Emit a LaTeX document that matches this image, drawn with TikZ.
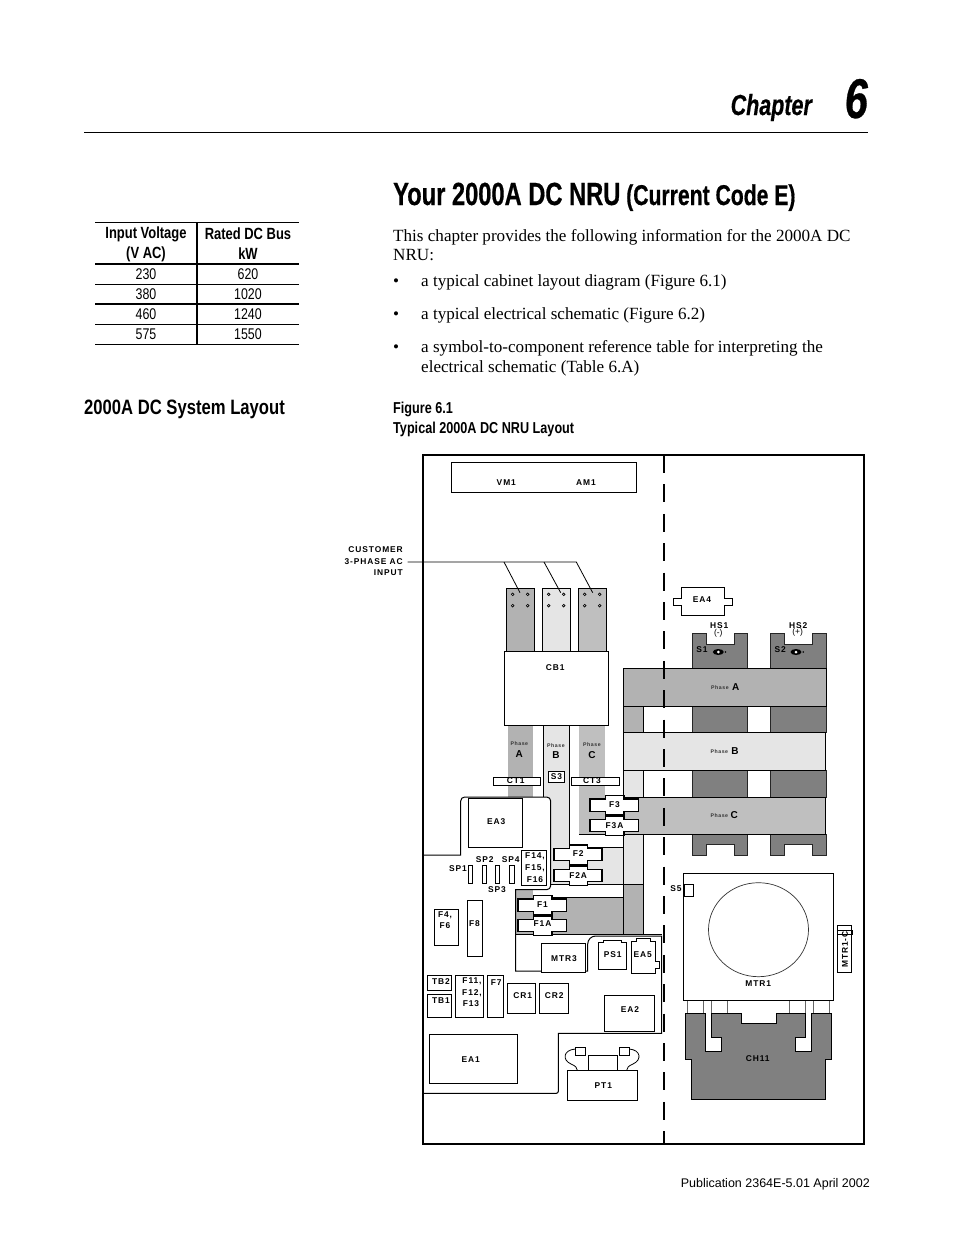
\documentclass[tikz,border=0pt]{standalone}
\usepackage{fontspec}
\setmainfont{Liberation Serif}
\newfontfamily\armf{Liberation Sans}
\newfontfamily\narrowf[FakeStretch=0.8]{Liberation Sans}
\newfontfamily\titlef[FakeStretch=0.74, FakeBold=0.5]{Liberation Sans}
\newfontfamily\lblf[LetterSpace=11]{Liberation Sans}
\definecolor{phasea}{gray}{0.70}
\definecolor{phaseb}{gray}{0.90}
\definecolor{phasec}{gray}{0.75}
\definecolor{sinkgray}{gray}{0.50}
% one fuse: body 48 wide with a tab above and below
\newcommand{\fusepart}[5]{%
    \draw[fuse] (#1, #2) -- ++(15.7, 0) -- ++(0, -3.3) -- ++(18.3, 0) -- ++(0, 3.3) -- ++(14.3, 0) -- ++(0, 12.5) -- ++(-14.3, 0) -- ++(0, 3.3) -- ++(-18.3, 0) -- ++(0, -3.3) -- ++(-15.7, 0) -- cycle;
    \draw[line width=1.8pt] (#1, #2) -- ++(0, 12.5);
    \node[lbl] (#3) at (#1+24.5, #2+#5) {#4};
}
% one heat sink column, notched at top and bottom
\newcommand{\sinkpart}[4]{%
    \fill[sinkgray] (#1, 668) rectangle (#2, 706.7);
    \draw[sink] (#1, 668.3) -- (#1, 633.3) -- (#3, 633.3) -- (#3, 644) -- (#4, 644) -- (#4, 633.3) -- (#2, 633.3) -- (#2, 668.3) -- cycle;
    \draw[sink] (#1, 706.7) rectangle (#2, 732.7);
    \draw[sink] (#1, 770.3) rectangle (#2, 797.3);
    \draw[sink] (#1, 834.3) -- (#1, 855.7) -- (#3, 855.7) -- (#3, 844.3) -- (#4, 844.3) -- (#4, 855.7) -- (#2, 855.7) -- (#2, 834.3) -- cycle;
}
\begin{document}
\begin{tikzpicture}[x=1pt, y=-1pt]
    \tikzstyle{lbl} = [font=\lblf\bfseries\fontsize{8.4}{10}\selectfont, inner sep=0pt]
    \tikzstyle{tiny} = [font=\lblf\bfseries\fontsize{5.2}{6}\selectfont, inner sep=0pt, text=black!80]
    \tikzstyle{big} = [font=\armf\bfseries\fontsize{10}{11}\selectfont, inner sep=0pt]
    \tikzstyle{box} = [draw=black, line width=0.8pt, fill=white]
    \tikzstyle{fuse} = [draw=black, line width=1.1pt, fill=white]
    \tikzstyle{sink} = [draw=black!85, line width=0.8pt, fill=sinkgray]
    \tikzstyle{wall} = [draw=black, line width=1pt]
    \tikzstyle{body} = [font=\fontsize{17.1}{20}\selectfont, inner sep=0pt, anchor=base west]
    \tikzstyle{cell} = [font=\narrowf\fontsize{15.5}{18}\selectfont, inner sep=0pt]
    \tikzstyle{head} = [font=\narrowf\bfseries\fontsize{16.2}{18}\selectfont, inner sep=0pt]
    \tikzstyle{fig} = [font=\narrowf\bfseries\fontsize{15.8}{18}\selectfont, inner sep=0pt, anchor=base west]
    \useasboundingbox (0, 0) rectangle (954, 1235);
    \fill[white] (0, 0) rectangle (954, 1235);

    % page header
    \node[font=\titlef\bfseries\itshape\fontsize{29}{30}\selectfont, inner sep=0pt, anchor=base east] (chapter) at (812, 115) {Chapter};
    \node[font=\titlef\bfseries\itshape\fontsize{56}{60}\selectfont, inner sep=0pt, anchor=base east] (number) at (868, 118) {6};
    \draw[line width=0.9pt] (84, 132.5) -- (868, 132.5);
    \node[font=\titlef\bfseries\fontsize{32}{36}\selectfont, inner sep=0pt, anchor=base west] (title) at (393, 205) {Your 2000A DC NRU};
    \node[font=\titlef\bfseries\fontsize{28.6}{30}\selectfont, inner sep=0pt, anchor=base west] (subtitle) at (626, 205) {(Current Code E)};

    % table
    \draw[line width=1.5pt] (95, 222.5) -- (299, 222.5);
    \draw[line width=2pt] (95, 264) -- (299, 264);
    \draw[line width=0.9pt] (95, 284) -- (299, 284);
    \draw[line width=1.4pt] (95, 304) -- (299, 304);
    \draw[line width=0.9pt] (95, 324) -- (299, 324);
    \draw[line width=0.9pt] (95, 344) -- (299, 344);
    \draw[line width=1.1pt] (197, 222) -- (197, 344);
    \node[head] (voltA) at (146, 234) {Input Voltage};
    \node[head] (voltB) at (146, 254) {(V AC)};
    \node[head] (busA) at (248, 234) {Rated DC Bus};
    \node[head] (busB) at (248, 254) {kW};
    \node[cell] (v1) at (146, 274) {230};
    \node[cell] (k1) at (248, 274) {620};
    \node[cell] (v2) at (146, 294) {380};
    \node[cell] (k2) at (248, 294) {1020};
    \node[cell] (v3) at (146, 314) {460};
    \node[cell] (k3) at (248, 314) {1240};
    \node[cell] (v4) at (146, 334) {575};
    \node[cell] (k4) at (248, 334) {1550};
    \node[font=\narrowf\bfseries\fontsize{20.8}{24}\selectfont, inner sep=0pt, anchor=base west] (layout) at (84, 414) {2000A DC System Layout};

    % body text
    \node[body] (introA) at (393, 241) {This chapter provides the following information for the 2000A DC};
    \node[body] (introB) at (393, 260.5) {NRU:};
    \node[body] (dotA) at (393, 286) {•};
    \node[body] (itemA) at (421, 286) {a typical cabinet layout diagram (Figure 6.1)};
    \node[body] (dotB) at (393, 319) {•};
    \node[body] (itemB) at (421, 319) {a typical electrical schematic (Figure 6.2)};
    \node[body] (dotC) at (393, 352) {•};
    \node[body] (itemC) at (421, 352) {a symbol-to-component reference table for interpreting the};
    \node[body] (itemD) at (421, 372) {electrical schematic (Table 6.A)};
    \node[fig] (figA) at (393, 413) {Figure 6.1};
    \node[fig] (figB) at (393, 433) {Typical 2000A DC NRU Layout};
    \node[font=\armf\fontsize{12.5}{15}\selectfont, inner sep=0pt, anchor=base east] (pub) at (870, 1187) {Publication 2364E-5.01 April 2002};

    % bus bars above and below CB1
    \fill[phasea] (507.7, 725) rectangle (533.3, 800);
    \fill[phaseb] (543.3, 725) rectangle (569.3, 884);
    \draw[line width=0.7pt] (543.3, 725) -- (543.3, 800);
    \draw[line width=0.7pt] (569.3, 725) -- (569.3, 847.7);
    \fill[phaseb] (569.3, 847.7) rectangle (623.3, 884);
    \draw[line width=0.7pt] (569.3, 847.7) -- (623.3, 847.7);
    \fill[phasec] (579.3, 725) rectangle (605.3, 834.3);
    \fill[phasec] (605, 797.3) rectangle (623.3, 834.3);
    \draw[line width=0.7pt] (579.3, 834.3) -- (623.3, 834.3);
    \draw[box, fill=phasea] (506.5, 588) rectangle (534, 651);
    \draw[box, fill=phaseb] (542.3, 588) rectangle (570.3, 651);
    \draw[box, fill=phasec] (578.3, 588) rectangle (606.3, 651);
    \foreach \xhole in {512.7, 527.7, 548.7, 563.7, 584.7, 599.7} {
        \draw[line width=0.7pt, fill=white] (\xhole, 594.3) circle (1.3);
        \draw[line width=0.7pt, fill=white] (\xhole, 605.7) circle (1.3);
    }
    \draw[box] (504.3, 651) rectangle (608.3, 725.3);
    \node[lbl] (cb1) at (555.3, 667.7) {CB1};

    % heat sinks and horizontal phases
    \sinkpart{692.3}{747.7}{706.7}{734.3}
    \sinkpart{770.3}{826.3}{784.3}{812.7}
    \fill[phasea] (623.3, 706.7) rectangle (643.3, 732.7);
    \fill[phaseb] (623.3, 770.3) rectangle (643.3, 797.3);
    \fill[phaseb] (623.3, 834.3) rectangle (643.3, 884);
    \fill[phasea] (623.3, 884) rectangle (643.3, 934);
    \draw[line width=0.7pt] (643.3, 770.3) -- (643.3, 797.3);
    \draw[line width=0.7pt] (643.3, 706.7) -- (643.3, 732.7);
    \draw[line width=0.7pt] (643.3, 834.3) -- (643.3, 934);
    \draw[line width=0.7pt] (623.3, 770.3) -- (623.3, 797.3);
    \draw[line width=0.7pt] (623.3, 834.3) -- (623.3, 934);
    \draw[line width=0.7pt] (623.3, 706.7) -- (623.3, 732.7);
    \draw[box, fill=phasea] (623.3, 668.5) rectangle (826.3, 706.7);
    \draw[box, fill=phaseb] (623.3, 732.7) rectangle (825.7, 770.3);
    \draw[box, fill=phasec] (623.3, 797.3) rectangle (825.7, 834.3);

    % phase A return under the fuses
    \fill[phasea] (515.7, 885) rectangle (533.3, 897.3);
    \fill[phasea] (515.7, 897.3) rectangle (623.3, 934);
    \draw[line width=0.7pt] (550.7, 884) -- (643.3, 884);
    \draw[line width=0.7pt] (533.3, 897.3) -- (623.3, 897.3);
    \draw[line width=0.8pt] (515.7, 934) -- (662, 934);

    % cabinet wall around the low voltage side
    \fill[white, rounded corners=4pt] (423, 855) -- (460.7, 855) -- (460.7, 797) -- (550.7, 797) -- (550.7, 889.7) [sharp corners] -- (515.7, 889.7) -- (515.7, 971) -- (587.7, 971) [rounded corners=8pt] -- (587.7, 936) [sharp corners] -- (661.7, 936) -- (661.7, 1033.3) -- (558.3, 1033.3) [rounded corners=2pt] -- (558.3, 1093.3) [sharp corners] -- (423, 1093.3) -- cycle;
    \draw[wall, rounded corners=4pt] (423, 855) [sharp corners] -- (460.7, 855) [rounded corners=4pt] -- (460.7, 797) -- (550.7, 797) -- (550.7, 889.7) [sharp corners] -- (515.7, 889.7) -- (515.7, 971) -- (587.7, 971) [rounded corners=8pt] -- (587.7, 936) [sharp corners] -- (661.7, 936) -- (661.7, 1033.3) -- (558.3, 1033.3) [rounded corners=2pt] -- (558.3, 1093.3) [sharp corners] -- (423, 1093.3);

    % outer frame and centre divider
    \draw[line width=2.5pt] (423, 455) rectangle (864, 1144);
    \draw[line width=2.3pt, dash pattern=on 18pt off 11.4pt] (664, 455) -- (664, 1144);

    % top meters and incoming feeds
    \draw[box] (451.3, 462.3) rectangle (636.7, 492.3);
    \node[lbl] (vm1) at (506.3, 482.3) {VM1};
    \node[lbl] (am1) at (586, 482.3) {AM1};
    \node[lbl, anchor=east] (custA) at (403, 549.7) {CUSTOMER};
    \node[lbl, anchor=east] (custB) at (403, 561.5) {3-PHASE AC};
    \node[lbl, anchor=east] (custC) at (403, 573) {INPUT};
    \coordinate (feedin) at (407.7, 562);
    \coordinate (feedA) at (504, 562);
    \coordinate (feedB) at (544, 562);
    \coordinate (feedC) at (576.3, 562);
    \coordinate (barA) at (520, 592.7);
    \coordinate (barB) at (560.7, 592.7);
    \coordinate (barC) at (592.7, 592.7);
    \draw[line width=0.8pt] (feedin) -- (feedC) -- (barC);
    \draw[line width=0.8pt] (feedA) -- (barA);
    \draw[line width=0.8pt] (feedB) -- (barB);

    % phase names
    \node[tiny] (upA) at (519.3, 743.7) {Phase};
    \node[big] (letA) at (519.3, 754.3) {A};
    \node[tiny] (upB) at (556, 745.7) {Phase};
    \node[big] (letB) at (556, 755.3) {B};
    \node[tiny] (upC) at (592, 744.7) {Phase};
    \node[big] (letC) at (592, 755.3) {C};
    \node[tiny] (sideA) at (720, 687.7) {Phase};
    \node[big] (sideLetA) at (735.7, 687) {A};
    \node[tiny] (sideB) at (719.3, 751.7) {Phase};
    \node[big] (sideLetB) at (735, 751) {B};
    \node[tiny] (sideC) at (719.3, 815.7) {Phase};
    \node[big] (sideLetC) at (734.3, 815) {C};

    % current transformers
    \draw[box] (493.3, 777) rectangle (540.7, 785.7);
    \node[lbl] (ct1) at (515.7, 780.5) {CT1};
    \draw[box] (571.3, 777) rectangle (619.3, 785.7);
    \node[lbl] (ct3) at (592, 780.5) {CT3};
    \draw[box] (548.3, 771.3) rectangle (564.7, 782.3);
    \node[lbl] (s3) at (556.5, 776.8) {S3};

    % fuses
    \fusepart{590}{799}{f3}{F3}{5.5}
    \fusepart{590}{819.3}{f3a}{F3A}{6.3}
    \fusepart{553.7}{848.3}{f2}{F2}{5}
    \fusepart{553.7}{869.3}{f2a}{F2A}{6.3}
    \fusepart{518}{899}{f1}{F1}{5.3}
    \fusepart{518}{919.3}{f1a}{F1A}{4.5}

    % low voltage compartment
    \draw[box] (468.3, 798.3) rectangle (522.3, 847.7);
    \node[lbl] (ea3) at (496.3, 821.3) {EA3};
    \foreach \xsp/\wsp in {468.7/4, 482.7/4, 495.3/4, 509.7/4.6} {
        \draw[box] (\xsp, 865.3) rectangle ++(\wsp, 18);
    }
    \node[lbl] (sp1) at (458, 869) {SP1};
    \node[lbl] (sp2) at (484.7, 859.7) {SP2};
    \node[lbl] (sp4) at (510.7, 859.7) {SP4};
    \node[lbl] (sp3) at (497, 889.7) {SP3};
    \draw[box] (521.3, 850.7) rectangle (546.7, 885.3);
    \node[lbl] (f14) at (535, 856.3) {F14,};
    \node[lbl] (f15) at (535, 868) {F15,};
    \node[lbl] (f16) at (535, 879.7) {F16};
    \draw[box] (434.3, 909.3) rectangle (458.3, 945.3);
    \node[lbl] (f4) at (445, 915.7) {F4,};
    \node[lbl] (f6) at (445, 926) {F6};
    \draw[box] (467.3, 900.3) rectangle (482.7, 956.3);
    \node[lbl] (f8) at (474.5, 923.3) {F8};
    \draw[box] (541.7, 943.3) rectangle (585.7, 972.7);
    \node[lbl] (mtr3) at (564, 959) {MTR3};
    \draw[box] (598.3, 942.3) -- (603.3, 942.3) -- (603.3, 940) -- (621, 940) -- (621, 942.3) -- (626.7, 942.3) -- (626.7, 969) -- (598.3, 969) -- cycle;
    \node[lbl] (ps1) at (612.7, 954.7) {PS1};
    \draw[box] (631.3, 941.7) -- (636, 941.7) -- (636, 938.7) -- (650, 938.7) -- (650, 941.7) -- (655, 941.7) -- (655, 961.7) -- (659, 961.7) -- (659, 968.3) -- (655, 968.3) -- (655, 973.3) -- (631.3, 973.3) -- cycle;
    \node[lbl] (ea5) at (642.7, 954.7) {EA5};
    \draw[box] (427.3, 975.7) rectangle (451.7, 990.7);
    \node[lbl] (tb2) at (441, 981.7) {TB2};
    \draw[box] (427.3, 994.3) rectangle (451.7, 1017.3);
    \node[lbl] (tb1) at (441, 1000.7) {TB1};
    \draw[box] (455.3, 975.7) rectangle (483.3, 1017.3);
    \node[lbl] (f11) at (472, 981) {F11,};
    \node[lbl] (f12) at (472, 993.3) {F12,};
    \node[lbl] (f13) at (471, 1003.7) {F13};
    \draw[box] (487.3, 975.7) rectangle (503.7, 1017.3);
    \node[lbl] (f7) at (496.3, 982.3) {F7};
    \draw[box] (507.3, 983.3) rectangle (535.7, 1013.3);
    \node[lbl] (cr1) at (522.7, 995.7) {CR1};
    \draw[box] (539.3, 983.3) rectangle (568.7, 1013.3);
    \node[lbl] (cr2) at (554.3, 995.7) {CR2};
    \draw[box] (604.3, 995.3) rectangle (654.7, 1031.3);
    \node[lbl] (ea2) at (630, 1009.7) {EA2};
    \draw[box] (429.3, 1034.3) rectangle (517.7, 1083.3);
    \node[lbl] (ea1) at (470.7, 1059.7) {EA1};

    % PT1 with its two terminals
    \draw[line width=0.8pt] (588.3, 1070.3) -- (588.3, 1055.3) -- (617.7, 1055.3) -- (617.7, 1070.3);
    \draw[line width=0.8pt] (575.3, 1049) .. controls (563, 1050) and (562, 1060) .. (571, 1064) .. controls (576, 1066) and (577, 1068) .. (577.3, 1070.3);
    \draw[line width=0.8pt] (629.3, 1049) .. controls (641, 1050) and (642, 1060) .. (633, 1064) .. controls (628, 1066) and (627, 1068) .. (626.7, 1070.3);
    \draw[box] (575.3, 1047) rectangle (585.7, 1055.3);
    \draw[box] (619.3, 1047) rectangle (629.3, 1055.3);
    \draw[box] (567.3, 1070.3) rectangle (637.7, 1100.3);
    \node[lbl] (pt1) at (603.3, 1085.3) {PT1};

    % EA4 and the heat sink names
    \draw[box] (681.3, 587.3) -- (724.7, 587.3) -- (724.7, 598.3) -- (732.7, 598.3) -- (732.7, 605) -- (724.7, 605) -- (724.7, 615.3) -- (681.3, 615.3) -- (681.3, 605) -- (673.3, 605) -- (673.3, 598.3) -- (681.3, 598.3) -- cycle;
    \node[lbl] (ea4) at (702, 599.7) {EA4};
    \node[lbl] (hs1) at (719.3, 625.5) {HS1};
    \node[font=\armf\fontsize{8.5}{10}\selectfont, inner sep=0pt] (minus) at (718.3, 633) {(-)};
    \node[lbl] (hs2) at (798.3, 625.5) {HS2};
    \node[font=\armf\fontsize{8.5}{10}\selectfont, inner sep=0pt] (plus) at (797.7, 632.5) {(+)};
    \node[lbl] (s1) at (702, 650) {S1};
    \node[lbl] (s2) at (780.3, 650) {S2};
    \foreach \xeye in {718.3, 796} {
        \fill[black] (\xeye, 652) circle[x radius=5.5, y radius=3];
        \fill[white] (\xeye, 652) circle (1.5);
        \fill[black] (\xeye+7.2, 652) circle (0.9);
    }

    % motor and choke
    \foreach \xlead in {687.7, 703.3, 711, 727.3, 789.3, 805.7, 813.3, 829.3} {
        \draw[draw=black!60, line width=0.7pt] (\xlead, 1000) -- (\xlead, 1014);
    }
    \draw[box] (683.3, 873.3) rectangle (833.3, 1000.3);
    \draw[line width=0.7pt, draw=black!80] (758.5, 929.7) circle[x radius=50, y radius=47];
    \draw[box] (684, 884) rectangle (693.3, 896.7);
    \node[lbl] (s5) at (676, 888.3) {S5};
    \node[lbl] (mtr1) at (758.3, 984) {MTR1};
    \draw[box] (837.7, 925.7) rectangle (851.7, 972.7);
    \node[lbl, rotate=90] (mtr1c) at (845, 949.5) {MTR1-C};
    \draw[box, fill=none] (837.7, 930.7) rectangle (852.7, 934.3);
    \draw[draw=black, line width=1pt, fill=sinkgray] (685.7, 1013.3) -- (705, 1013.3) -- (705, 1051) -- (721.7, 1051) -- (721.7, 1037.7) -- (711.7, 1037.7) -- (711.7, 1013.3) -- (741.3, 1013.3) -- (741.3, 1023.3) -- (776.7, 1023.3) -- (776.7, 1013.3) -- (805.7, 1013.3) -- (805.7, 1037.7) -- (795.7, 1037.7) -- (795.7, 1051) -- (811.7, 1051) -- (811.7, 1013.3) -- (831.7, 1013.3) -- (831.7, 1059.3) -- (825.7, 1059.3) -- (825.7, 1099.3) -- (691.7, 1099.3) -- (691.7, 1059.3) -- (685.7, 1059.3) -- cycle;
    \node[lbl] (ch11) at (757.7, 1058.3) {CH11};
\end{tikzpicture}
\end{document}
